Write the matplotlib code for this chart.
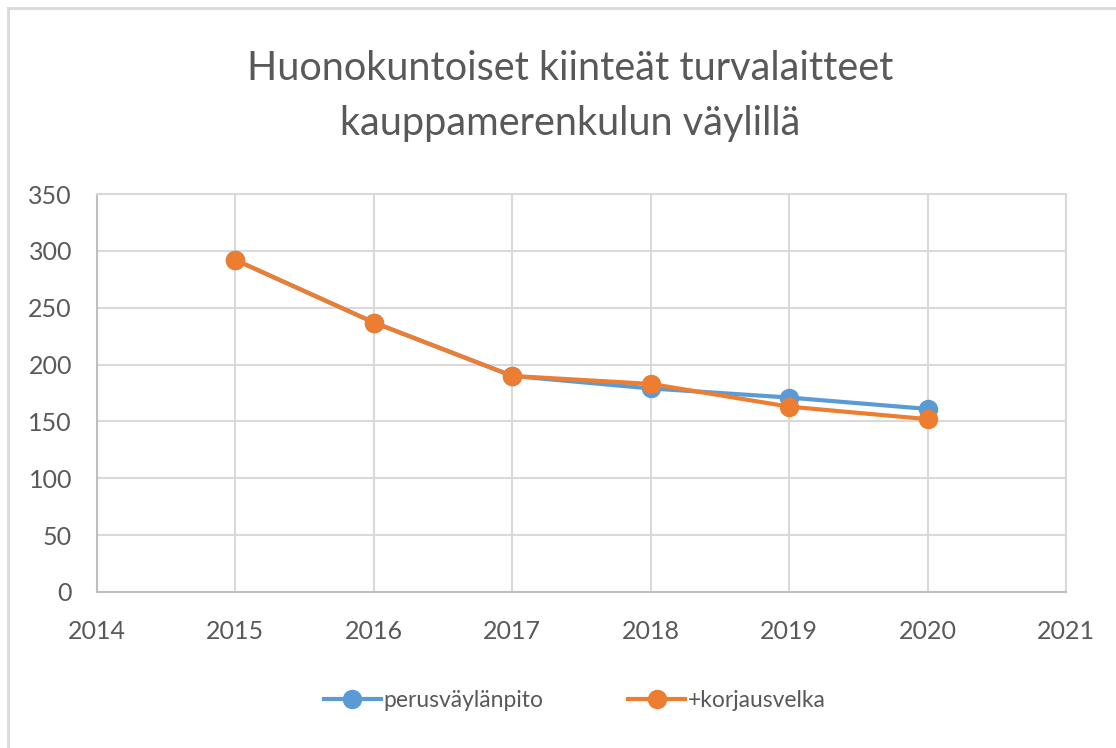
import matplotlib.pyplot as plt
from matplotlib.lines import Line2D

years = [2015, 2016, 2017, 2018, 2019, 2020]
perus = [292, 237, 190, 179, 171, 161]
korjaus = [292, 237, 190, 183, 163, 152]
labels = ["perusväylänpito", "+korjausvelka"]
title = "Huonokuntoiset kiinteät turvalaitteet\nkauppamerenkulun väylillä"

plt.rcParams['font.family'] = ['Lato', 'DejaVu Sans']
txt = "#595959"
grid = "#D9D9D9"

fig = plt.figure(figsize=(11.16, 7.48), dpi=100)
ax = fig.add_axes([0.0869, 0.2086, 0.8683, 0.532])

ax.plot(years, perus, color="#5B9BD5", lw=3, marker="o", ms=13, label=labels[0], zorder=3)
ax.plot(years, korjaus, color="#ED7D31", lw=3, marker="o", ms=13, label=labels[1], zorder=4)

ax.set_xlim(2014, 2021)
ax.set_ylim(0, 350)
ax.set_xticks(range(2014, 2022))
ax.set_yticks(range(0, 351, 50))
ax.grid(True, color=grid, lw=1.5)
ax.set_axisbelow(True)
for s in ax.spines.values():
    s.set_color(grid)
    s.set_linewidth(1.5)
ax.spines['left'].set_color("#BFBFBF")
ax.spines['bottom'].set_color("#BFBFBF")
ax.tick_params(length=0, labelsize=18, labelcolor=txt)
ax.tick_params(axis="y", pad=18)
ax.tick_params(axis="x", pad=20)

fig.text(0.511, 0.871, title, ha="center", va="center", fontsize=28.5, color=txt,
         linespacing=1.6)

handles = [Line2D([], [], color="#5B9BD5", lw=3, marker="o", ms=13),
           Line2D([], [], color="#ED7D31", lw=3, marker="o", ms=13)]
fig.legend(handles, labels, loc="center", bbox_to_anchor=(0.515, 0.063), ncol=2,
           frameon=False, fontsize=16.5, labelcolor=txt, handlelength=2.5,
           handletextpad=0.1, columnspacing=3.7)

# outer chart frame
fig.add_artist(Line2D([0.007, 1.0], [0.989, 0.989], color=grid, lw=2))
fig.add_artist(Line2D([0.007, 0.007], [0.0, 0.989], color=grid, lw=2))

fig.savefig("out.png", dpi=100)
